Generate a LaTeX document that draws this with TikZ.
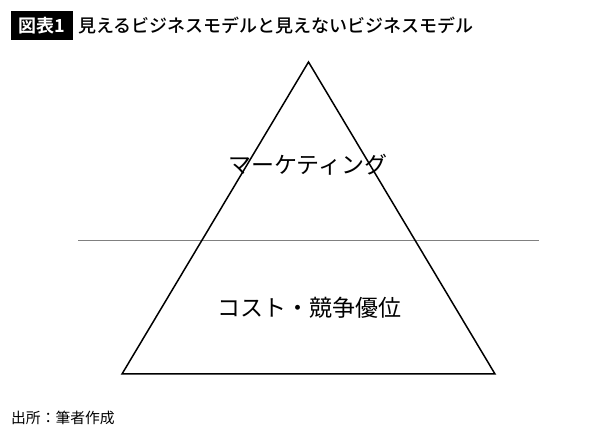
\documentclass[tikz,border=0pt]{standalone}
\usepackage{fontspec}
\newfontfamily\cjk{Noto Sans CJK JP}
\newfontfamily\cjkb{Noto Sans CJK JP Bold}
\newfontfamily\cjkm{Noto Sans CJK JP Medium}
\begin{document}
\begin{tikzpicture}[x=1pt,y=1pt,
  lbl/.style={inner sep=0pt,font=\cjk\fontsize{23}{23}\selectfont},
  tri/.style={draw=black,line width=1.5pt,line join=miter}]
\useasboundingbox (0,0) rectangle (600,434);
\fill[white] (0,0) rectangle (600,434);
% title
\node[fill=black,text=white,inner sep=0pt,minimum width=62pt,minimum height=29pt,anchor=west,font=\cjkb\fontsize{18}{18}\selectfont] (tag) at (11,408.5) {図表1};
\node[anchor=west,inner sep=0pt,font=\cjkm\fontsize{18}{18}\selectfont] (title) at (78,408.5) {見えるビジネスモデルと見えないビジネスモデル};
% triangle
\coordinate (apex) at (308.5,372);
\coordinate (bl) at (122,60);
\coordinate (br) at (495,60);
\coordinate (hl) at (78,193);
\coordinate (hr) at (539,193);
\draw[gray,line width=1pt] (hl) -- (hr);
\draw[tri] (apex) -- (br) -- (bl) -- cycle;
\node[lbl] (mk) at (308,269) {マーケティング};
\node[lbl] (cost) at (309.5,126) {コスト・競争優位};
% source
\node[anchor=west,inner sep=0pt,font=\cjk\fontsize{14.8}{15}\selectfont] (src) at (11,16) {出所：筆者作成};
\end{tikzpicture}
\end{document}
